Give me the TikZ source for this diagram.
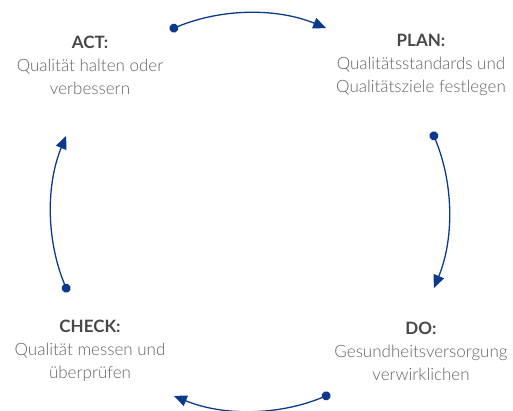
\documentclass[tikz,border=0pt]{standalone}
\usepackage{fontspec}
\setmainfont{Lato}[UprightFont={* Light}, BoldFont={* Bold}]
\usetikzlibrary{arrows.meta,calc}
\definecolor{cycleblue}{HTML}{0B3A8C}
\definecolor{bodygray}{HTML}{626262}
\definecolor{headgray}{HTML}{474747}
\newcommand{\stephead}[1]{{\bfseries\color{headgray}#1}}
\tikzset{
  cyclearrow/.style={{Circle[length=9pt]}-{Triangle[length=13pt,width=11pt]}, line width=1.3pt, cycleblue, shorten <=-4.5pt},
  stepnote/.style={align=center, text=bodygray, inner sep=0pt, font=\fontsize{17}{23}\selectfont}
}

\begin{document}
\begin{tikzpicture}[x=1pt, y=1pt]
  \useasboundingbox (0,0) rectangle (513,410);
  \coordinate (ctr) at (250,198);
  % points on the cycle
  \coordinate (act-out) at ($(ctr)+(112.5:199)$);
  \coordinate (plan-in) at ($(ctr)+(67.5:199)$);
  \coordinate (plan-out) at ($(ctr)+(22.5:199)$);
  \coordinate (do-in) at ($(ctr)+(-22.5:199)$);
  \coordinate (do-out) at ($(ctr)+(-67.5:199)$);
  \coordinate (check-in) at ($(ctr)+(-112.5:199)$);
  \coordinate (check-out) at ($(ctr)+(202.5:199)$);
  \coordinate (act-in) at ($(ctr)+(157.5:199)$);

  \node[stepnote] (act) at (90,345) {\stephead{ACT:}\\Qualität halten oder\\verbessern};
  \node[stepnote] (plan) at (421,345) {\stephead{PLAN:}\\Qualitätsstandards und\\Qualitätsziele festlegen};
  \node[stepnote] (do) at (421,59) {\stephead{DO:}\\Gesundheitsversorgung\\verwirklichen};
  \node[stepnote] (check) at (90,59) {\stephead{CHECK:}\\Qualität messen und\\überprüfen};

  \draw[cyclearrow] (act-out) to[bend left=22.5, looseness=0.885] (plan-in);
  \draw[cyclearrow] (plan-out) to[bend left=22.5, looseness=0.885] (do-in);
  \draw[cyclearrow] (do-out) to[bend left=22.5, looseness=0.885] (check-in);
  \draw[cyclearrow] (check-out) to[bend left=22.5, looseness=0.885] (act-in);
\end{tikzpicture}
\end{document}
